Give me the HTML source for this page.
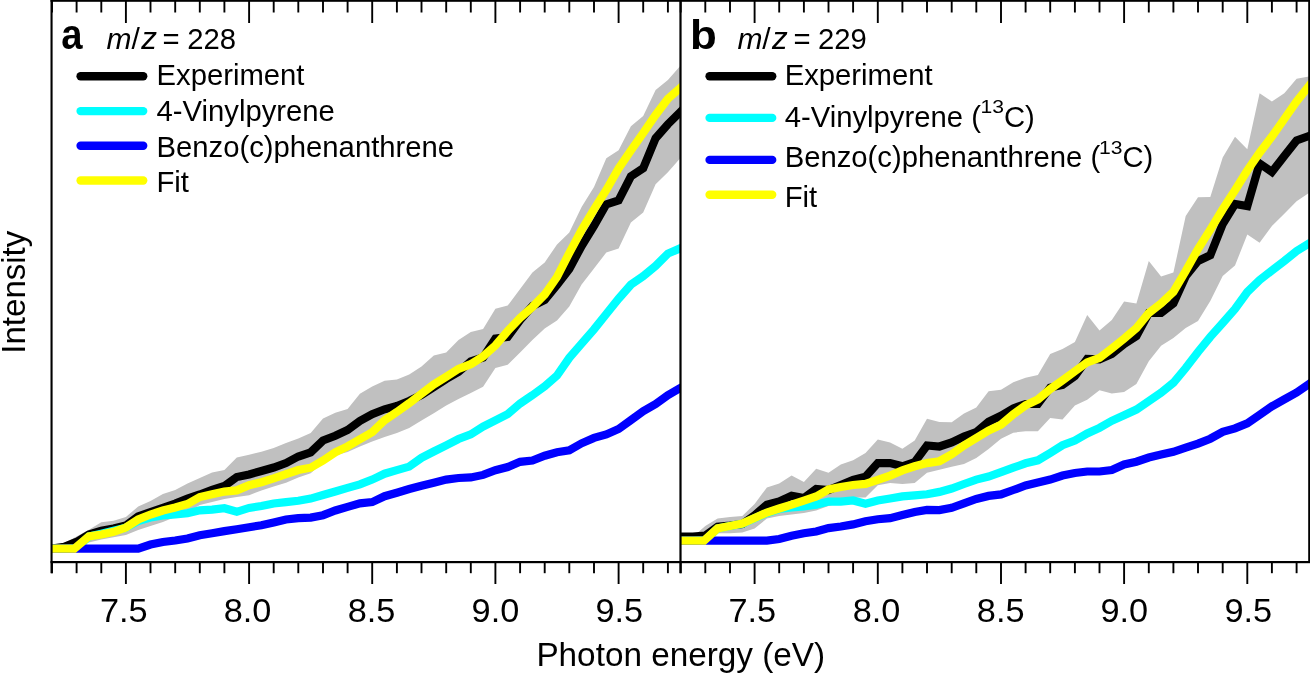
<!DOCTYPE html>
<html><head><meta charset="utf-8"><title>Photon energy plot</title>
<style>
html,body{margin:0;padding:0;background:#fff;width:1310px;height:674px;overflow:hidden;}
svg{display:block;will-change:transform;}
text{font-family:"Liberation Sans",sans-serif;}
</style></head><body>
<svg width="1310" height="674" viewBox="0 0 1310 674">
<defs>
<clipPath id="ca"><rect x="51.6" y="0" width="628.9" height="561"/></clipPath>
<clipPath id="cb"><rect x="680.5" y="0" width="628.5" height="561"/></clipPath>
</defs>
<g clip-path="url(#ca)">
<polygon fill="#c0c0c0" points="52.0,548.6 64.3,543.0 76.6,536.4 88.9,529.8 101.3,522.3 113.6,520.8 125.9,517.1 138.2,506.5 150.5,501.0 162.9,494.0 175.2,490.0 187.5,483.6 199.8,478.0 212.1,472.5 224.4,470.1 236.8,457.6 249.1,454.7 261.4,451.8 273.7,448.0 286.0,443.1 298.3,438.5 310.7,432.9 323.0,418.6 335.3,412.7 347.6,409.1 359.9,393.7 372.2,386.6 384.6,380.7 396.9,379.5 409.2,374.5 421.5,366.4 433.8,355.5 446.2,352.4 458.5,339.9 470.8,332.1 483.1,329.0 495.4,308.7 507.7,305.6 520.1,289.0 532.4,272.5 544.7,262.5 557.0,244.4 569.3,232.4 581.6,207.0 594.0,187.0 606.3,158.2 618.6,150.2 630.9,126.2 643.2,116.1 655.6,90.1 667.9,80.0 680.2,66.0 692.5,52.0 692.5,144.1 680.2,158.2 667.9,172.3 655.6,184.3 643.2,212.4 630.9,222.4 618.6,248.5 606.3,252.5 594.0,268.5 581.6,284.5 569.3,306.6 557.0,320.6 544.7,328.6 532.4,339.9 520.1,352.4 507.7,364.8 495.4,368.0 483.1,386.7 470.8,392.9 458.5,399.1 446.2,405.4 433.8,413.2 421.5,420.6 409.2,428.0 396.9,433.0 384.6,437.0 372.2,441.5 359.9,446.5 347.6,452.0 335.3,455.4 323.0,462.5 310.7,473.2 298.3,477.4 286.0,482.7 273.7,486.5 261.4,490.4 249.1,495.2 236.8,497.1 224.4,499.1 212.1,502.0 199.8,505.0 187.5,512.0 175.2,517.0 162.9,522.0 150.5,526.0 138.2,529.9 125.9,535.0 113.6,537.2 101.3,539.4 88.9,542.4 76.6,545.0 64.3,548.0 52.0,548.6"/>
<polyline fill="none" stroke="#000" stroke-width="8.2" stroke-linejoin="miter" stroke-miterlimit="3" points="52.0,548.6 64.3,546.8 76.6,541.9 88.9,534.5 101.3,530.8 113.6,528.6 125.9,525.6 138.2,516.5 150.5,512.0 162.9,507.8 175.2,503.5 187.5,498.6 199.8,494.5 212.1,489.8 224.4,486.0 236.8,477.0 249.1,474.5 261.4,471.0 273.7,467.5 286.0,463.0 298.3,456.5 310.7,452.3 323.0,440.5 335.3,435.8 347.6,430.0 359.9,421.0 372.2,414.2 384.6,409.3 396.9,406.0 409.2,401.0 421.5,395.0 433.8,387.0 446.2,379.0 458.5,372.0 470.8,361.5 483.1,357.5 495.4,338.5 507.7,337.0 520.1,320.0 532.4,306.0 544.7,300.0 557.0,285.0 569.3,269.0 581.6,246.0 594.0,226.0 606.3,204.3 618.6,200.3 630.9,176.3 643.2,168.3 655.6,138.2 667.9,124.2 680.2,112.1 692.5,100.0"/>
<polyline fill="none" stroke="#0ff" stroke-width="8.2" stroke-linejoin="miter" stroke-miterlimit="3" points="52.0,548.6 64.3,548.6 76.6,548.0 88.9,536.6 101.3,533.7 113.6,530.7 125.9,527.7 138.2,521.0 150.5,517.5 162.9,515.5 175.2,514.3 187.5,513.3 199.8,510.3 212.1,509.6 224.4,508.2 236.8,511.8 249.1,507.9 261.4,506.0 273.7,503.5 286.0,502.2 298.3,500.7 310.7,498.6 323.0,495.0 335.3,491.5 347.6,487.9 359.9,484.4 372.2,479.6 384.6,473.7 396.9,470.1 409.2,466.6 421.5,457.8 433.8,451.5 446.2,445.3 458.5,439.0 470.8,434.4 483.1,426.6 495.4,420.3 507.7,414.1 520.1,403.5 532.4,395.2 544.7,386.3 557.0,375.6 569.3,357.8 581.6,343.6 594.0,329.4 606.3,314.0 618.6,298.7 630.9,284.7 643.2,276.2 655.6,265.9 667.9,253.6 680.2,248.3 692.5,243.0"/>
<polyline fill="none" stroke="#00f" stroke-width="8.2" stroke-linejoin="miter" stroke-miterlimit="3" points="52.0,548.6 64.3,548.6 76.6,548.6 88.9,548.6 101.3,548.6 113.6,548.6 125.9,548.6 138.2,548.6 150.5,544.5 162.9,542.0 175.2,540.5 187.5,538.5 199.8,535.3 212.1,533.3 224.4,531.1 236.8,529.2 249.1,527.2 261.4,525.3 273.7,522.4 286.0,519.5 298.3,518.1 310.7,517.6 323.0,515.2 335.3,510.5 347.6,506.9 359.9,503.3 372.2,502.1 384.6,496.2 396.9,492.7 409.2,489.0 421.5,485.8 433.8,482.7 446.2,479.6 458.5,478.0 470.8,477.4 483.1,474.9 495.4,470.2 507.7,467.1 520.1,461.8 532.4,460.5 544.7,455.7 557.0,452.2 569.3,450.4 581.6,443.3 594.0,437.9 606.3,434.4 618.6,429.0 630.9,420.1 643.2,411.2 655.6,404.1 667.9,395.2 680.2,388.1 692.5,381.0"/>
<polyline fill="none" stroke="#ff0" stroke-width="8.2" stroke-linejoin="miter" stroke-miterlimit="3" points="52.0,548.6 64.3,548.6 74.4,548.6 88.9,536.4 101.3,534.5 113.6,531.8 125.9,527.5 138.2,519.5 150.5,514.5 162.9,510.5 175.2,507.5 187.5,504.0 199.8,497.0 212.1,494.3 224.4,491.6 236.8,490.4 249.1,485.2 261.4,482.2 273.7,478.4 286.0,474.2 298.3,470.0 310.7,467.7 323.0,460.6 335.3,452.3 347.6,446.4 359.9,439.3 372.2,432.2 384.6,420.3 396.9,412.0 409.2,403.2 421.5,393.8 433.8,384.5 446.2,376.7 458.5,368.9 470.8,364.2 483.1,356.4 495.4,345.5 507.7,331.0 520.1,318.0 532.4,307.0 544.7,294.5 557.0,277.0 569.3,253.0 581.6,230.0 594.0,209.4 606.3,190.0 618.6,168.5 630.9,150.5 643.2,133.0 655.6,115.0 667.9,98.7 680.2,88.0 692.5,77.3"/>
</g>
<g clip-path="url(#cb)">
<polygon fill="#c0c0c0" points="680.7,536.7 693.0,536.7 705.3,525.9 717.6,518.6 730.0,517.0 742.3,516.1 754.6,503.9 766.9,487.4 779.2,483.4 791.6,475.4 803.9,482.0 816.2,468.7 828.5,472.7 840.8,464.4 853.1,460.2 865.5,453.0 877.8,439.5 890.1,442.6 902.4,448.8 914.7,440.5 927.0,418.7 939.4,422.0 951.7,422.3 964.0,413.4 976.3,407.5 988.6,391.2 1001.0,389.7 1013.3,382.3 1025.6,377.8 1037.9,374.9 1050.2,354.1 1062.5,349.0 1074.9,342.0 1087.2,315.0 1099.5,330.4 1111.8,320.0 1124.1,301.5 1136.4,303.4 1148.8,261.0 1161.1,276.4 1173.4,272.6 1185.7,216.0 1198.0,197.2 1210.3,197.0 1222.7,157.6 1235.0,136.8 1247.3,149.3 1259.6,93.2 1271.9,101.5 1284.3,93.2 1296.6,78.7 1308.9,76.6 1321.2,74.5 1321.2,184.6 1308.9,192.9 1296.6,201.2 1284.3,213.7 1271.9,226.1 1259.6,242.7 1247.3,234.4 1235.0,265.6 1222.7,276.0 1210.3,300.9 1198.0,321.0 1185.7,328.0 1173.4,338.1 1161.1,345.8 1148.8,361.3 1136.4,384.0 1124.1,392.0 1111.8,393.5 1099.5,390.2 1087.2,399.8 1074.9,405.6 1062.5,419.6 1050.2,417.9 1037.9,431.2 1025.6,431.2 1013.3,432.7 1001.0,438.7 988.6,449.0 976.3,457.9 964.0,463.9 951.7,466.8 939.4,469.7 927.0,472.7 914.7,483.1 902.4,484.1 890.1,483.1 877.8,485.2 865.5,497.6 853.1,497.6 840.8,502.8 828.5,506.0 816.2,510.4 803.9,512.9 791.6,514.5 779.2,516.1 766.9,518.6 754.6,528.4 742.3,532.4 730.0,533.3 717.6,533.3 705.3,538.0 693.0,538.0 680.7,536.7"/>
<polyline fill="none" stroke="#000" stroke-width="8.2" stroke-linejoin="miter" stroke-miterlimit="3" points="680.7,536.7 693.0,536.7 705.3,535.5 717.6,526.7 730.0,525.5 742.3,524.0 754.6,515.3 766.9,504.7 779.2,501.4 791.6,495.7 803.9,498.0 816.2,489.0 828.5,490.0 840.8,485.0 853.1,479.8 865.5,476.7 877.8,463.1 890.1,463.1 902.4,466.3 914.7,462.1 927.0,445.5 939.4,446.5 951.7,442.5 964.0,436.6 976.3,432.1 988.6,421.7 1001.0,415.8 1013.3,408.4 1025.6,404.0 1037.9,404.0 1050.2,387.6 1062.5,385.0 1074.9,376.0 1087.2,359.0 1099.5,359.3 1111.8,354.0 1124.1,344.0 1136.4,336.2 1148.8,313.0 1161.1,313.0 1173.4,303.4 1185.7,276.2 1198.0,261.0 1210.3,255.2 1222.7,224.0 1235.0,204.0 1247.3,206.0 1259.6,163.5 1271.9,172.0 1284.3,156.0 1296.6,140.5 1308.9,136.0 1321.2,131.5"/>
<polyline fill="none" stroke="#0ff" stroke-width="8.2" stroke-linejoin="miter" stroke-miterlimit="3" points="680.7,540.6 693.0,540.6 705.3,540.0 717.6,528.6 730.0,526.1 742.3,523.7 754.6,518.2 766.9,513.0 779.2,509.0 791.6,507.5 803.9,506.3 816.2,504.8 828.5,501.6 840.8,501.6 853.1,500.5 865.5,503.7 877.8,500.5 890.1,498.5 902.4,496.4 914.7,495.3 927.0,494.3 939.4,491.9 951.7,488.5 964.0,484.0 976.3,479.6 988.6,476.6 1001.0,472.2 1013.3,467.7 1025.6,463.3 1037.9,460.3 1050.2,452.9 1062.5,445.2 1074.9,440.6 1087.2,433.5 1099.5,427.9 1111.8,420.8 1124.1,415.2 1136.4,409.6 1148.8,401.1 1161.1,392.7 1173.4,382.8 1185.7,368.0 1198.0,352.0 1210.3,336.8 1222.7,323.0 1235.0,309.0 1247.3,292.0 1259.6,280.0 1271.9,270.5 1284.3,261.0 1296.6,251.0 1308.9,243.5 1321.2,236.0"/>
<polyline fill="none" stroke="#00f" stroke-width="8.2" stroke-linejoin="miter" stroke-miterlimit="3" points="680.7,540.6 693.0,540.6 705.3,540.6 717.6,540.6 730.0,540.6 742.3,540.6 754.6,540.6 766.9,540.6 779.2,539.0 791.6,535.7 803.9,533.3 816.2,531.5 828.5,528.1 840.8,526.5 853.1,524.4 865.5,521.3 877.8,519.2 890.1,518.2 902.4,515.1 914.7,512.0 927.0,509.9 939.4,510.1 951.7,507.8 964.0,503.3 976.3,498.9 988.6,495.9 1001.0,494.4 1013.3,490.0 1025.6,485.5 1037.9,482.6 1050.2,479.6 1062.5,475.5 1074.9,473.0 1087.2,471.5 1099.5,471.5 1111.8,470.1 1124.1,464.5 1136.4,461.7 1148.8,457.5 1161.1,454.6 1173.4,451.8 1185.7,447.6 1198.0,443.6 1210.3,438.7 1222.7,431.8 1235.0,428.4 1247.3,423.3 1259.6,414.8 1271.9,406.3 1284.3,399.4 1296.6,392.6 1308.9,384.1 1321.2,375.6"/>
<polyline fill="none" stroke="#ff0" stroke-width="8.2" stroke-linejoin="miter" stroke-miterlimit="3" points="680.7,540.6 693.0,540.6 704.1,540.6 717.6,528.4 730.0,525.9 742.3,523.5 754.6,518.0 766.9,512.5 779.2,508.5 791.6,504.7 803.9,500.6 816.2,496.5 828.5,489.5 840.8,487.0 853.1,485.0 865.5,483.9 877.8,479.8 890.1,475.6 902.4,470.4 914.7,466.3 927.0,463.1 939.4,461.2 951.7,454.4 964.0,445.5 976.3,438.1 988.6,430.6 1001.0,424.7 1013.3,414.3 1025.6,405.4 1037.9,399.5 1050.2,389.1 1062.5,380.3 1074.9,371.3 1087.2,362.3 1099.5,357.9 1111.8,348.5 1124.1,338.7 1136.4,328.1 1148.8,313.0 1161.1,303.4 1173.4,291.8 1185.7,271.0 1198.0,249.0 1210.3,229.6 1222.7,209.3 1235.0,190.3 1247.3,170.5 1259.6,152.7 1271.9,136.6 1284.3,119.0 1296.6,101.4 1308.9,86.0 1321.2,70.6"/>
</g>

<g stroke="#000" stroke-width="1.9" fill="none">
<line x1="52.0" y1="0" x2="52.0" y2="12.5"/>
<line x1="52.0" y1="562" x2="52.0" y2="573.2"/>
<line x1="76.6" y1="0" x2="76.6" y2="12.5"/>
<line x1="76.6" y1="562" x2="76.6" y2="573.2"/>
<line x1="101.3" y1="0" x2="101.3" y2="12.5"/>
<line x1="101.3" y1="562" x2="101.3" y2="573.2"/>
<line x1="125.9" y1="0" x2="125.9" y2="23"/>
<line x1="125.9" y1="562" x2="125.9" y2="584"/>
<line x1="150.5" y1="0" x2="150.5" y2="12.5"/>
<line x1="150.5" y1="562" x2="150.5" y2="573.2"/>
<line x1="175.2" y1="0" x2="175.2" y2="12.5"/>
<line x1="175.2" y1="562" x2="175.2" y2="573.2"/>
<line x1="199.8" y1="0" x2="199.8" y2="12.5"/>
<line x1="199.8" y1="562" x2="199.8" y2="573.2"/>
<line x1="224.4" y1="0" x2="224.4" y2="12.5"/>
<line x1="224.4" y1="562" x2="224.4" y2="573.2"/>
<line x1="249.1" y1="0" x2="249.1" y2="23"/>
<line x1="249.1" y1="562" x2="249.1" y2="584"/>
<line x1="273.7" y1="0" x2="273.7" y2="12.5"/>
<line x1="273.7" y1="562" x2="273.7" y2="573.2"/>
<line x1="298.3" y1="0" x2="298.3" y2="12.5"/>
<line x1="298.3" y1="562" x2="298.3" y2="573.2"/>
<line x1="323.0" y1="0" x2="323.0" y2="12.5"/>
<line x1="323.0" y1="562" x2="323.0" y2="573.2"/>
<line x1="347.6" y1="0" x2="347.6" y2="12.5"/>
<line x1="347.6" y1="562" x2="347.6" y2="573.2"/>
<line x1="372.2" y1="0" x2="372.2" y2="23"/>
<line x1="372.2" y1="562" x2="372.2" y2="584"/>
<line x1="396.9" y1="0" x2="396.9" y2="12.5"/>
<line x1="396.9" y1="562" x2="396.9" y2="573.2"/>
<line x1="421.5" y1="0" x2="421.5" y2="12.5"/>
<line x1="421.5" y1="562" x2="421.5" y2="573.2"/>
<line x1="446.2" y1="0" x2="446.2" y2="12.5"/>
<line x1="446.2" y1="562" x2="446.2" y2="573.2"/>
<line x1="470.8" y1="0" x2="470.8" y2="12.5"/>
<line x1="470.8" y1="562" x2="470.8" y2="573.2"/>
<line x1="495.4" y1="0" x2="495.4" y2="23"/>
<line x1="495.4" y1="562" x2="495.4" y2="584"/>
<line x1="520.1" y1="0" x2="520.1" y2="12.5"/>
<line x1="520.1" y1="562" x2="520.1" y2="573.2"/>
<line x1="544.7" y1="0" x2="544.7" y2="12.5"/>
<line x1="544.7" y1="562" x2="544.7" y2="573.2"/>
<line x1="569.3" y1="0" x2="569.3" y2="12.5"/>
<line x1="569.3" y1="562" x2="569.3" y2="573.2"/>
<line x1="594.0" y1="0" x2="594.0" y2="12.5"/>
<line x1="594.0" y1="562" x2="594.0" y2="573.2"/>
<line x1="618.6" y1="0" x2="618.6" y2="23"/>
<line x1="618.6" y1="562" x2="618.6" y2="584"/>
<line x1="643.2" y1="0" x2="643.2" y2="12.5"/>
<line x1="643.2" y1="562" x2="643.2" y2="573.2"/>
<line x1="667.9" y1="0" x2="667.9" y2="12.5"/>
<line x1="667.9" y1="562" x2="667.9" y2="573.2"/>
<line x1="680.7" y1="0" x2="680.7" y2="12.5"/>
<line x1="680.7" y1="562" x2="680.7" y2="573.2"/>
<line x1="705.3" y1="0" x2="705.3" y2="12.5"/>
<line x1="705.3" y1="562" x2="705.3" y2="573.2"/>
<line x1="730.0" y1="0" x2="730.0" y2="12.5"/>
<line x1="730.0" y1="562" x2="730.0" y2="573.2"/>
<line x1="754.6" y1="0" x2="754.6" y2="23"/>
<line x1="754.6" y1="562" x2="754.6" y2="584"/>
<line x1="779.2" y1="0" x2="779.2" y2="12.5"/>
<line x1="779.2" y1="562" x2="779.2" y2="573.2"/>
<line x1="803.9" y1="0" x2="803.9" y2="12.5"/>
<line x1="803.9" y1="562" x2="803.9" y2="573.2"/>
<line x1="828.5" y1="0" x2="828.5" y2="12.5"/>
<line x1="828.5" y1="562" x2="828.5" y2="573.2"/>
<line x1="853.1" y1="0" x2="853.1" y2="12.5"/>
<line x1="853.1" y1="562" x2="853.1" y2="573.2"/>
<line x1="877.8" y1="0" x2="877.8" y2="23"/>
<line x1="877.8" y1="562" x2="877.8" y2="584"/>
<line x1="902.4" y1="0" x2="902.4" y2="12.5"/>
<line x1="902.4" y1="562" x2="902.4" y2="573.2"/>
<line x1="927.0" y1="0" x2="927.0" y2="12.5"/>
<line x1="927.0" y1="562" x2="927.0" y2="573.2"/>
<line x1="951.7" y1="0" x2="951.7" y2="12.5"/>
<line x1="951.7" y1="562" x2="951.7" y2="573.2"/>
<line x1="976.3" y1="0" x2="976.3" y2="12.5"/>
<line x1="976.3" y1="562" x2="976.3" y2="573.2"/>
<line x1="1001.0" y1="0" x2="1001.0" y2="23"/>
<line x1="1001.0" y1="562" x2="1001.0" y2="584"/>
<line x1="1025.6" y1="0" x2="1025.6" y2="12.5"/>
<line x1="1025.6" y1="562" x2="1025.6" y2="573.2"/>
<line x1="1050.2" y1="0" x2="1050.2" y2="12.5"/>
<line x1="1050.2" y1="562" x2="1050.2" y2="573.2"/>
<line x1="1074.9" y1="0" x2="1074.9" y2="12.5"/>
<line x1="1074.9" y1="562" x2="1074.9" y2="573.2"/>
<line x1="1099.5" y1="0" x2="1099.5" y2="12.5"/>
<line x1="1099.5" y1="562" x2="1099.5" y2="573.2"/>
<line x1="1124.1" y1="0" x2="1124.1" y2="23"/>
<line x1="1124.1" y1="562" x2="1124.1" y2="584"/>
<line x1="1148.8" y1="0" x2="1148.8" y2="12.5"/>
<line x1="1148.8" y1="562" x2="1148.8" y2="573.2"/>
<line x1="1173.4" y1="0" x2="1173.4" y2="12.5"/>
<line x1="1173.4" y1="562" x2="1173.4" y2="573.2"/>
<line x1="1198.0" y1="0" x2="1198.0" y2="12.5"/>
<line x1="1198.0" y1="562" x2="1198.0" y2="573.2"/>
<line x1="1222.7" y1="0" x2="1222.7" y2="12.5"/>
<line x1="1222.7" y1="562" x2="1222.7" y2="573.2"/>
<line x1="1247.3" y1="0" x2="1247.3" y2="23"/>
<line x1="1247.3" y1="562" x2="1247.3" y2="584"/>
<line x1="1271.9" y1="0" x2="1271.9" y2="12.5"/>
<line x1="1271.9" y1="562" x2="1271.9" y2="573.2"/>
<line x1="1296.6" y1="0" x2="1296.6" y2="12.5"/>
<line x1="1296.6" y1="562" x2="1296.6" y2="573.2"/>

</g>
<g fill="#000">
<rect x="50.5" y="0" width="1259.5" height="1.8"/>
<rect x="50.5" y="0" width="2.1" height="573.2"/>
<rect x="679.4" y="0" width="2.2" height="573.2"/>
<rect x="1308.2" y="0" width="1.8" height="563"/>
<rect x="50.5" y="561" width="1259.5" height="2.2"/>
</g>
<g fill="#000">
<text transform="translate(123.85,622.2) scale(1.03,1)" text-anchor="middle" font-size="33.3">7.5</text>
<text transform="translate(247.5,622.2) scale(1.03,1)" text-anchor="middle" font-size="33.3">8.0</text>
<text transform="translate(371.5,622.2) scale(1.03,1)" text-anchor="middle" font-size="33.3">8.5</text>
<text transform="translate(495.45,622.2) scale(1.03,1)" text-anchor="middle" font-size="33.3">9.0</text>
<text transform="translate(619.3,622.2) scale(1.03,1)" text-anchor="middle" font-size="33.3">9.5</text>
<text transform="translate(752.3,622.2) scale(1.03,1)" text-anchor="middle" font-size="33.3">7.5</text>
<text transform="translate(876.5,622.2) scale(1.03,1)" text-anchor="middle" font-size="33.3">8.0</text>
<text transform="translate(1000.7,622.2) scale(1.03,1)" text-anchor="middle" font-size="33.3">8.5</text>
<text transform="translate(1124.3,622.2) scale(1.03,1)" text-anchor="middle" font-size="33.3">9.0</text>
<text transform="translate(1248.3,622.2) scale(1.03,1)" text-anchor="middle" font-size="33.3">9.5</text>

<text x="536.4" y="666.4" font-size="33.3">Photon energy (eV)</text>
<text transform="translate(25.3,292.2) rotate(-90)" text-anchor="middle" font-size="33">Intensity</text>
<text transform="translate(61.3,48.5) scale(0.91,1)" font-size="42" font-weight="bold">a</text>
<text x="106.6" y="49.2" font-size="30" font-style="italic">m</text>
<text x="131.4" y="49.4" font-size="30">/</text>
<text x="141.2" y="49.2" font-size="31.5" font-style="italic">z</text>
<text x="162.6" y="49.2" font-size="29.25">=</text>
<text x="187.2" y="49.2" font-size="29.25">228</text>
<line x1="80.6" y1="76.3" x2="143.2" y2="76.3" stroke="#000" stroke-width="8.4" stroke-linecap="round"/>
<text x="156.5" y="85.4" font-size="29.25">Experiment</text>
<line x1="80.6" y1="111.1" x2="143.2" y2="111.1" stroke="#0ff" stroke-width="8.4" stroke-linecap="round"/>
<text x="156.5" y="120.9" font-size="29.25">4-Vinylpyrene</text>
<line x1="80.6" y1="145.8" x2="143.2" y2="145.8" stroke="#00f" stroke-width="8.4" stroke-linecap="round"/>
<text x="156.5" y="156.8" font-size="29.25">Benzo(c)phenanthrene</text>
<line x1="80.6" y1="180.5" x2="143.2" y2="180.5" stroke="#ff0" stroke-width="8.4" stroke-linecap="round"/>
<text x="156.5" y="191.8" font-size="29.25">Fit</text>
<text transform="translate(690.1,49.4) scale(1.07,1)" font-size="41" font-weight="bold">b</text>
<text x="737.4" y="49.2" font-size="30" font-style="italic">m</text>
<text x="762.1999999999999" y="49.4" font-size="30">/</text>
<text x="772.0" y="49.2" font-size="31.5" font-style="italic">z</text>
<text x="793.4" y="49.2" font-size="29.25">=</text>
<text x="818.0" y="49.2" font-size="29.25">229</text>
<line x1="709.6" y1="76.3" x2="772.2" y2="76.3" stroke="#000" stroke-width="8.4" stroke-linecap="round"/>
<text x="784.7" y="85.4" font-size="29.25">Experiment</text>
<line x1="709.6" y1="117.9" x2="772.2" y2="117.9" stroke="#0ff" stroke-width="8.4" stroke-linecap="round"/>
<text x="784.7" y="127.0" font-size="29.25">4-Vinylpyrene (</text>
<line x1="709.6" y1="159.9" x2="772.2" y2="159.9" stroke="#00f" stroke-width="8.4" stroke-linecap="round"/>
<text x="784.7" y="167.0" font-size="29.25">Benzo(c)phenanthrene (</text>
<line x1="709.6" y1="194.7" x2="772.2" y2="194.7" stroke="#ff0" stroke-width="8.4" stroke-linecap="round"/>
<text x="784.7" y="206.6" font-size="29.25">Fit</text>
<text transform="translate(980.5,113.3) scale(1.2,1)" font-size="17.6">13</text>
<text x="1004.0" y="127.0" font-size="29.25">C)</text>
<text transform="translate(1098.9,153.6) scale(1.2,1)" font-size="17.6">13</text>
<text x="1122.4" y="167.0" font-size="29.25">C)</text>

</g>
</svg>
</body></html>
